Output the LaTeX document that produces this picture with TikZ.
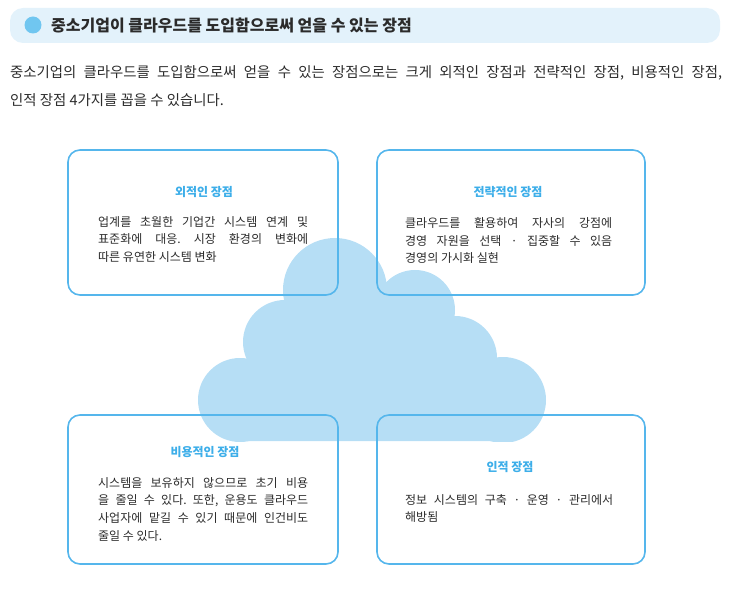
\documentclass[tikz,border=0pt]{standalone}
\usepackage{fontspec}
\setmainfont{Noto Sans CJK KR}
\frenchspacing
\definecolor{boxblue}{HTML}{55B6EC}
\definecolor{cloudblue}{HTML}{B6DEF5}
\definecolor{barbg}{HTML}{E3F2FB}
\definecolor{dotblue}{HTML}{70C6F0}
\definecolor{titleblue}{HTML}{3DAEE9}
\definecolor{txt}{HTML}{2B2B2B}
\begin{document}
\frenchspacing
\begin{tikzpicture}[x=1pt,y=-1pt,
  card/.style={draw=boxblue,line width=1.6pt,rounded corners=12pt,inner sep=0,minimum width=270pt},
  cardtitle/.style={text=titleblue,font=\fontsize{12}{14}\selectfont\bfseries,inner sep=0},
  cardbody/.style={text=txt,font=\fontsize{12}{17.8}\selectfont,align=left,inner sep=0,anchor=north west},
  cloudpart/.style={fill=cloudblue}
]
\useasboundingbox (0,0) rectangle (734,596);

% header
\node[fill=barbg,rounded corners=13pt,minimum width=710pt,minimum height=35pt,inner sep=0] (bar) at (365,25.5) {};
\node[circle,fill=dotblue,minimum size=17pt,inner sep=0] (dot) at (33,25) {};
\node[anchor=west,inner sep=0,text=txt,font=\fontsize{16}{18}\selectfont\bfseries] (head) at (51,25.5)
  {중소기업이 클라우드를 도입함으로써 얻을 수 있는 장점};

% intro
\node[anchor=north west,inner sep=0,text=txt,align=left,font=\fontsize{14.4}{28}\selectfont] (intro) at (10,65)
  {\makebox[712pt][s]{중소기업의 클라우드를 도입함으로써 얻을 수 있는 장점으로는 크게 외적인 장점과 전략적인 장점, 비용적인 장점,}\\
   인적 장점 4가지를 꼽을 수 있습니다.};

% cloud
\begin{scope}
  \clip (0,0) rectangle (734,441);
  \fill[cloudpart] (335,290) circle[radius=52];
  \fill[cloudpart] (415,310) circle[radius=40];
  \fill[cloudpart] (285,342) circle[radius=42];
  \fill[cloudpart] (455,358) circle[radius=42];
  \fill[cloudpart] (240,400) circle[radius=42];
  \fill[cloudpart] (503,400) circle[radius=43];
  \fill[cloudpart] (240,400) -- (285,342) -- (335,290) -- (415,310) -- (455,358) -- (503,400)
     -- (503,441) -- (240,441) -- cycle;
\end{scope}

% cards
\node[card,minimum height=145pt] (tl) at (203,222.5) {};
\node[card,minimum width=268pt,minimum height=145pt] (tr) at (511,222.5) {};
\node[card,minimum height=149pt] (bl) at (203,489.5) {};
\node[card,minimum width=268pt,minimum height=149pt] (br) at (511,489.5) {};

\node[cardtitle] (tlt) at (204,192) {외적인 장점};
\node[cardtitle] (trt) at (508,192) {전략적인 장점};
\node[cardtitle] (blt) at (205,452) {비용적인 장점};
\node[cardtitle] (brt) at (510,467) {인적 장점};

\node[cardbody] (tlb) at (98,216) {\makebox[210pt][s]{업계를 초월한 기업간 시스템 연계 및}\\
  \makebox[210pt][s]{표준화에 대응. 시장 환경의 변화에}\\
  따른 유연한 시스템 변화};
\node[cardbody] (trb) at (405,217) {\makebox[207pt][s]{클라우드를 활용하여 자사의 강점에}\\
  \makebox[207pt][s]{경영 자원을 선택 · 집중할 수 있음}\\
  경영의 가시화 실현};
\node[cardbody] (blb) at (98,477) {\makebox[210pt][s]{시스템을 보유하지 않으므로 초기 비용}\\
  \makebox[210pt][s]{을 줄일 수 있다. 또한, 운용도 클라우드}\\
  \makebox[210pt][s]{사업자에 맡길 수 있기 때문에 인건비도}\\
  줄일 수 있다.};
\node[cardbody] (brb) at (405,494) {\makebox[208pt][s]{정보 시스템의 구축 · 운영 · 관리에서}\\
  해방됨};
\end{tikzpicture}
\end{document}
